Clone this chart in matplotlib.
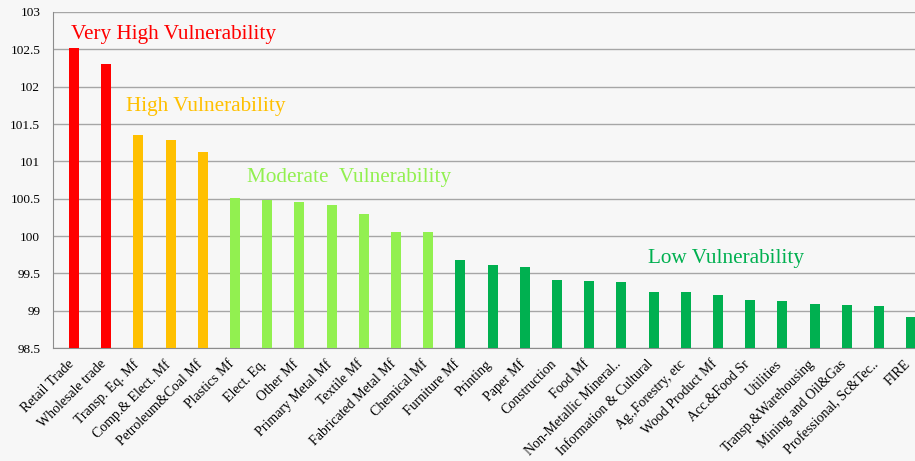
import matplotlib.pyplot as plt
import matplotlib.transforms as mtransforms
import numpy as np

sectors = ["Retail Trade", "Wholesale trade", "Transp. Eq. Mf", "Comp.& Elect. Mf",
           "Petroleum&Coal Mf", "Plastics Mf", "Elect. Eq.", "Other Mf", "Primary Metal Mf",
           "Textile Mf", "Fabricated Metal Mf", "Chemical Mf", "Furniture Mf", "Printing",
           "Paper Mf", "Construction", "Food Mf", "Non-Metallic Mineral..",
           "Information & Cultural", "Ag.,Forestry, etc", "Wood Product Mf", "Acc.&Food Sr",
           "Utilities", "Transp.&Warehousing", "Mining and Oil&Gas", "Professional, Sc&Tec..",
           "FIRE"]
values = [102.52, 102.30, 101.35, 101.29, 101.12, 100.51, 100.48, 100.45, 100.42,
          100.30, 100.06, 100.05, 99.68, 99.61, 99.58, 99.41, 99.40, 99.38,
          99.25, 99.25, 99.21, 99.14, 99.13, 99.09, 99.08, 99.06, 98.92]
# vulnerability group of each sector: 0 very high, 1 high, 2 moderate, 3 low
groups = [0, 0, 1, 1, 1, 2, 2, 2, 2, 2, 2, 2] + [3] * 15
group_colors = ["#FF0000", "#FFC000", "#92F050", "#00B050"]
group_names = ["Very High Vulnerability", "High Vulnerability",
               "Moderate  Vulnerability", "Low Vulnerability"]

plt.rcParams['font.family'] = ['Liberation Serif', 'DejaVu Serif']

fig = plt.figure(figsize=(9.15, 4.61), dpi=100, facecolor="#F7F7F7")
ax = fig.add_axes([0.0576, 0.245, 0.9424, 0.729])
ax.set_facecolor("#F7F7F7")

x = np.arange(len(sectors))
colors = [group_colors[g] for g in groups]
ax.bar(x, values, width=0.31, color=colors, zorder=3)

ax.set_ylim(98.5, 103)
ax.set_yticks(np.arange(98.5, 103.01, 0.5))
ax.set_yticklabels(["98.5", "99", "99.5", "100", "100.5", "101", "101.5", "102", "102.5", "103"])
ax.set_xlim(-0.66, 26.12)
ax.set_xticks(x)
ax.set_xticklabels(sectors, rotation=45, ha="right", rotation_mode="anchor")
ax.tick_params(axis="both", length=0, colors="black")
ax.tick_params(axis="y", pad=9, labelsize=9.5)
ax.tick_params(axis="x", pad=7, labelsize=10)

# nudge rotated labels a little to the left, like the original
shift = mtransforms.ScaledTranslation(-7 / 100, 0, fig.dpi_scale_trans)
for lab in ax.get_xticklabels():
    lab.set_transform(lab.get_transform() + shift)

ax.grid(axis="y", color="#A6A6A6", linewidth=1.0, zorder=0)
for s in ["top", "right"]:
    ax.spines[s].set_visible(False)
ax.spines["left"].set_color("#8C8C8C")
ax.spines["bottom"].set_color("#8C8C8C")

# group labels
label_pos = [(-0.09, 102.7), (1.61, 101.74), (5.37, 100.78), (17.83, 99.70)]
for (lx, ly), name, c in zip(label_pos, group_names, group_colors):
    ax.text(lx, ly, name, color=c, fontsize=15.3, va="center", ha="left", zorder=4)

plt.savefig("out.png", dpi=100, facecolor=fig.get_facecolor())
